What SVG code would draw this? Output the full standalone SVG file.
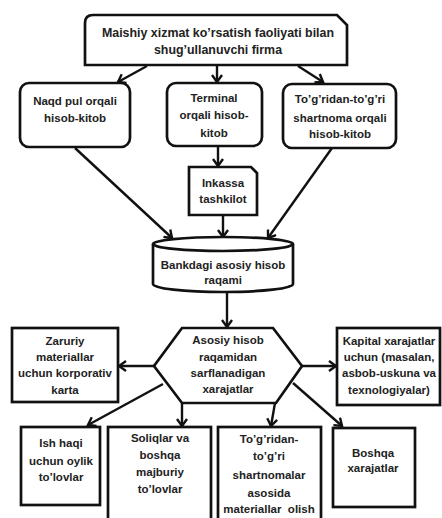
<svg xmlns="http://www.w3.org/2000/svg" width="442" height="518" viewBox="0 0 442 518">
<style>
.b{fill:#fff;stroke:#111;stroke-width:2.7}
.t{font-family:"Liberation Sans",Arial,sans-serif;font-weight:bold;font-size:11.5px;fill:#222;text-anchor:middle}
.big{font-size:12.4px}
.c{stroke:#111;stroke-width:2.4;fill:none;marker-end:url(#arr)}
</style>
<defs>
<marker id="arr" markerWidth="12" markerHeight="12" refX="10" refY="6" orient="auto" markerUnits="userSpaceOnUse">
<path d="M3,1 L10,6 L3,11" fill="none" stroke="#111" stroke-width="2.4"/>
</marker>
</defs>
<rect width="442" height="518" fill="#fff"/>
<g id="connectors">
<line class="c" x1="147" y1="66" x2="118" y2="82"/>
<line class="c" x1="217" y1="66" x2="217" y2="82"/>
<line class="c" x1="298" y1="66" x2="323" y2="82"/>
<line class="c" x1="75" y1="148" x2="172" y2="238"/>
<line class="c" x1="218" y1="146" x2="218" y2="166"/>
<line class="c" x1="223" y1="215" x2="223" y2="237"/>
<line class="c" x1="332" y1="148" x2="268" y2="238"/>
<line class="c" x1="227" y1="292" x2="227" y2="327"/>
<line class="c" x1="154" y1="366" x2="119" y2="366"/>
<line class="c" x1="302" y1="366" x2="336" y2="366"/>
<line class="c" x1="163" y1="384" x2="88" y2="425"/>
<line class="c" x1="182" y1="403" x2="182" y2="426"/>
<line class="c" x1="275" y1="403" x2="271" y2="426"/>
<line class="c" x1="293" y1="383" x2="342" y2="426"/>
</g>
<g id="firma">
<path class="b" d="M85,65 V23 Q85,15 93,15 H337 L347,25 V65 Z"/>
<text class="t big" x="218" y="37">Maishiy xizmat ko’rsatish faoliyati bilan</text>
<text class="t big" x="218" y="54">shug’ullanuvchi firma</text>
</g>
<g id="naqd">
<rect class="b" x="20" y="83" width="110" height="64" rx="9"/>
<text class="t" x="75" y="105">Naqd pul orqali</text>
<text class="t" x="75" y="122">hisob-kitob</text>
</g>
<g id="terminal">
<rect class="b" x="167" y="83" width="95" height="63" rx="9"/>
<text class="t" x="214" y="102">Terminal</text>
<text class="t" x="214" y="119">orqali hisob-</text>
<text class="t" x="214" y="137">kitob</text>
</g>
<g id="togridan">
<rect class="b" x="283" y="84" width="113" height="64" rx="9"/>
<text class="t" x="340" y="103">To’g’ridan-to’g’ri</text>
<text class="t" x="340" y="122">shartnoma orqali</text>
<text class="t" x="340" y="138">hisob-kitob</text>
</g>
<g id="inkassa">
<path class="b" d="M189,167 H251 L257,173 V215 H189 Z"/>
<text class="t" x="223" y="187">Inkassa</text>
<text class="t" x="223" y="203">tashkilot</text>
</g>
<g id="bank">
<path class="b" d="M153,244 V284 A70,8 0 0 0 293,284 V244"/>
<ellipse class="b" cx="223" cy="244" rx="70" ry="7"/>
<text class="t" x="223" y="269">Bankdagi asosiy hisob</text>
<text class="t" x="223" y="284">raqami</text>
</g>
<g id="asosiy">
<path class="b" d="M182,328 H273 L302,366 L276,403 H182 L154,366 Z"/>
<text class="t" x="228" y="344">Asosiy hisob</text>
<text class="t" x="228" y="361">raqamidan</text>
<text class="t" x="228" y="377">sarflanadigan</text>
<text class="t" x="228" y="393">xarajatlar</text>
</g>
<g id="zaruriy">
<rect class="b" x="12" y="328" width="106" height="74"/>
<text class="t" x="65" y="345">Zaruriy</text>
<text class="t" x="65" y="361">materiallar</text>
<text class="t" x="65" y="377">uchun korporativ</text>
<text class="t" x="65" y="394">karta</text>
</g>
<g id="kapital">
<rect class="b" x="337" y="328" width="103" height="77"/>
<text class="t" x="389" y="345">Kapital xarajatlar</text>
<text class="t" x="389" y="361">uchun (masalan,</text>
<text class="t" x="389" y="377">asbob-uskuna va</text>
<text class="t" x="389" y="394">texnologiyalar)</text>
</g>
<g id="ishhaqi">
<rect class="b" x="21" y="427" width="79" height="78"/>
<text class="t" x="61" y="447">Ish haqi</text>
<text class="t" x="61" y="465">uchun oylik</text>
<text class="t" x="61" y="481">to’lovlar</text>
</g>
<g id="soliqlar">
<rect class="b" x="108" y="427" width="103" height="100"/>
<text class="t" x="160" y="442">Soliqlar va</text>
<text class="t" x="160" y="459">boshqa</text>
<text class="t" x="160" y="476">majburiy</text>
<text class="t" x="160" y="493">to’lovlar</text>
</g>
<g id="shartnoma">
<rect class="b" x="218" y="427" width="103" height="100"/>
<text class="t" x="269" y="443">To’g’ridan-</text>
<text class="t" x="269" y="460">to’g’ri</text>
<text class="t" x="269" y="479">shartnomalar</text>
<text class="t" x="269" y="497">asosida</text>
<text class="t" x="269" y="513">materiallar&#160; olish</text>
</g>
<g id="boshqa">
<rect class="b" x="333" y="428" width="82" height="79"/>
<text class="t" x="373" y="457">Boshqa</text>
<text class="t" x="373" y="472">xarajatlar</text>
</g>
</svg>
